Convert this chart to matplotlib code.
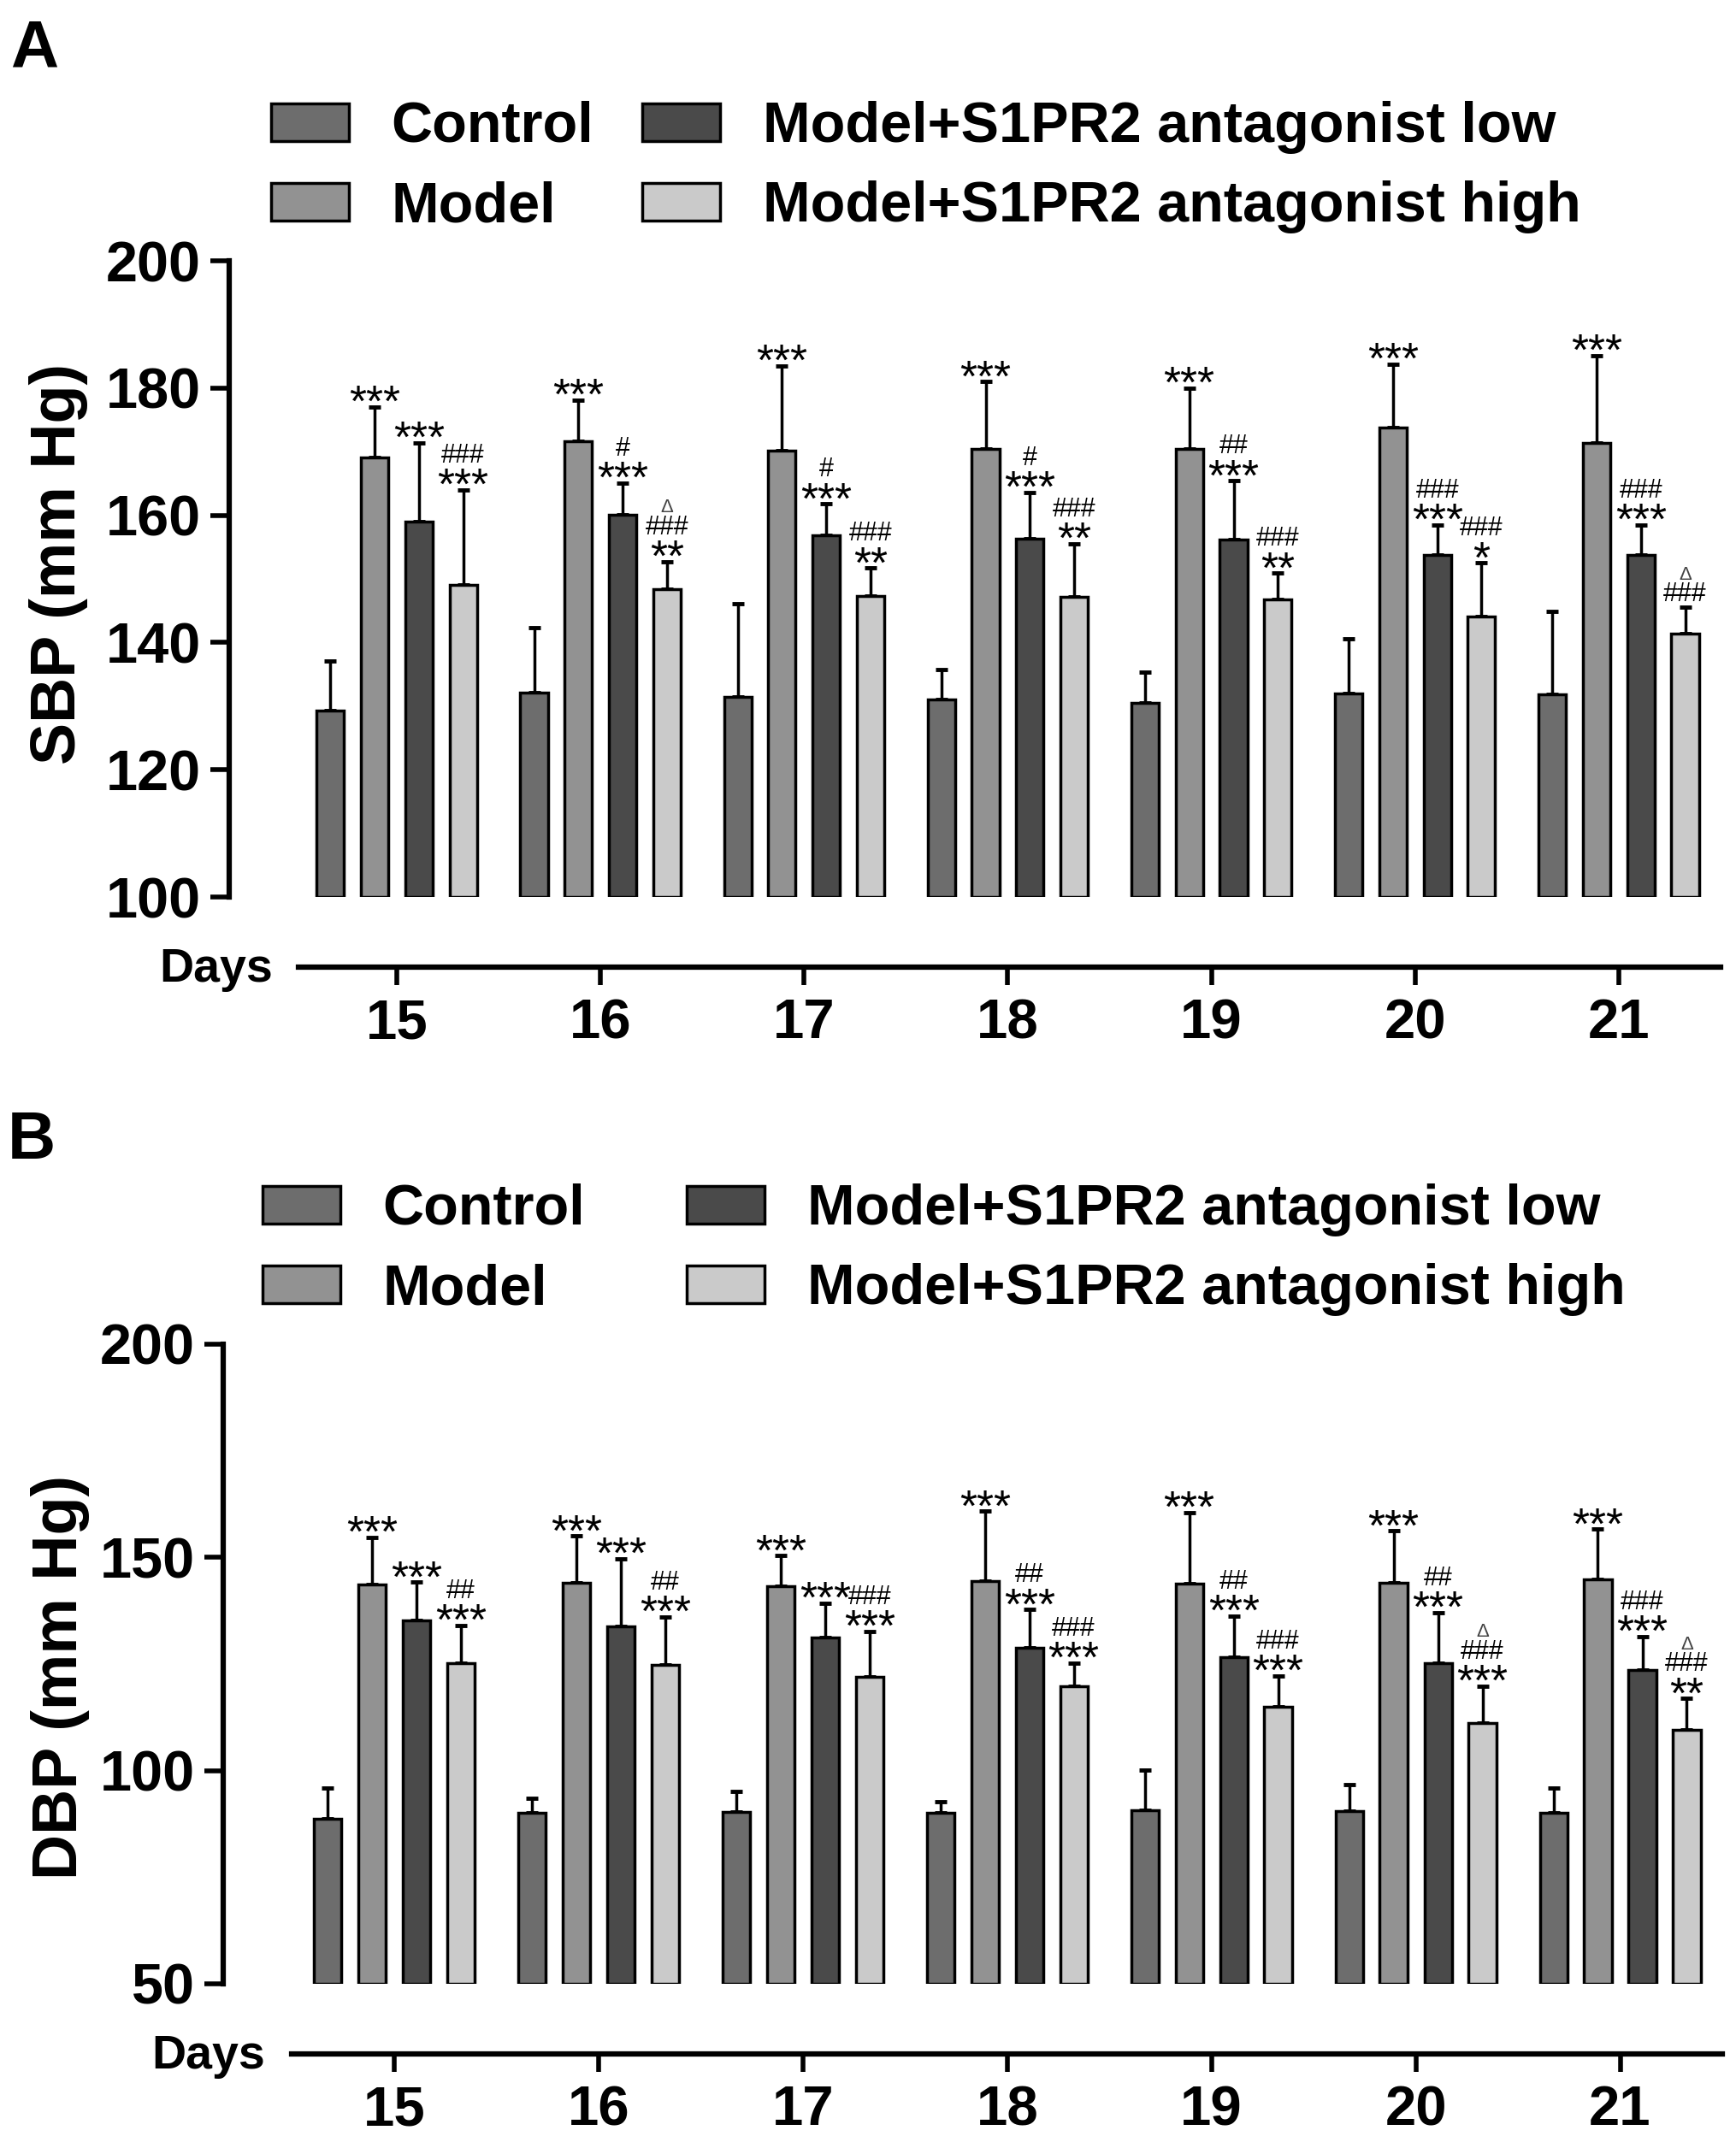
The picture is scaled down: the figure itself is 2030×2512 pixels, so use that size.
import numpy as np
import matplotlib
matplotlib.use("Agg")
import matplotlib.pyplot as plt
from matplotlib.textpath import TextPath
from matplotlib.font_manager import FontProperties

plt.rcParams["font.family"] = ["Liberation Sans", "DejaVu Sans"]

days = ["15", "16", "17", "18", "19", "20", "21"]
groups = ["Control", "Model", "Model+S1PR2 antagonist low", "Model+S1PR2 antagonist high"]
colors = ["#6d6d6d", "#929292", "#4a4a4a", "#cacaca"]

# panel A: systolic pressure, mean and SD
sbp_control = [129.3, 132.1, 131.4, 131.1, 130.5, 132.0, 131.8]
sbp_control_sd = [7.8, 10.2, 14.7, 4.6, 4.9, 8.6, 13.1]
sbp_model = [169.1, 171.6, 170.2, 170.4, 170.4, 173.8, 171.4]
sbp_model_sd = [7.9, 6.5, 13.3, 10.6, 9.6, 10.0, 13.7]
sbp_low = [159.0, 160.1, 156.9, 156.3, 156.2, 153.8, 153.8]
sbp_low_sd = [12.4, 5.0, 4.9, 7.3, 9.2, 4.7, 4.7]
sbp_high = [149.1, 148.4, 147.3, 147.2, 146.8, 144.1, 141.4]
sbp_high_sd = [14.9, 4.3, 4.4, 8.3, 4.1, 8.4, 4.2]

sbp_sig_model = ["***"] * 7
sbp_sig_low = ["***", "#\n***", "#\n***", "#\n***", "##\n***", "###\n***", "###\n***"]
sbp_sig_high = ["###\n***", "\u0394\n###\n**", "###\n**", "###\n**", "###\n**", "###\n*", "\u0394\n###"]

# panel B: diastolic pressure, mean and SD
dbp_control = [88.7, 90.2, 90.4, 90.2, 90.8, 90.5, 90.2]
dbp_control_sd = [7.2, 3.3, 4.7, 2.5, 9.3, 6.3, 5.7]
dbp_model = [143.7, 144.0, 143.2, 144.4, 143.8, 144.1, 144.8]
dbp_model_sd = [11.0, 11.0, 7.2, 16.4, 16.7, 12.1, 11.8]
dbp_low = [135.2, 133.8, 131.2, 128.8, 126.6, 125.2, 123.5]
dbp_low_sd = [9.0, 15.9, 8.1, 9.0, 9.6, 11.9, 7.9]
dbp_high = [125.2, 124.7, 122.0, 119.7, 115.0, 111.2, 109.5]
dbp_high_sd = [8.8, 11.3, 10.6, 5.6, 7.2, 8.6, 7.4]

dbp_sig_model = ["***"] * 7
dbp_sig_low = ["***", "***", "***", "##\n***", "##\n***", "##\n***", "###\n***"]
dbp_sig_high = ["##\n***", "##\n***", "###\n***", "###\n***", "###\n***",
                "\u0394\n###\n***", "\u0394\n###\n**"]

STAR_PT, HASH_PT, TRI_PT = 37, 22, 16
offsets = [-0.326, -0.109, 0.109, 0.326]
bar_w = 0.135

_ext = {}


def glyph_ext(s, size):
    # vertical extent (points) of the ink of a string above its baseline
    key = (s[0], size)
    if key not in _ext:
        p = TextPath((0, 0), s[0], size=size, prop=FontProperties(family=["Liberation Sans", "DejaVu Sans"]))
        e = p.get_extents()
        _ext[key] = (e.y0, e.y1)
    return _ext[key]


def stack_labels(ax, x, y, label):
    # stacked significance marks from the bottom up; h and gaps in points
    h = 4.5
    for s in reversed(label.split("\n")):
        if s.startswith("*"):
            size, gap, col = STAR_PT, 5.5, "black"
        elif s.startswith("#"):
            size, gap, col = HASH_PT, 3.5, "black"
        else:
            size, gap, col = TRI_PT, 3, "#444444"
        lo, hi = glyph_ext(s, size)
        ax.annotate(s, (x, y), xytext=(0, h - lo), textcoords="offset points",
                    ha="center", va="baseline", fontsize=size, color=col,
                    annotation_clip=False)
        h = h + (hi - lo) + gap


def panel(fig, rect, xmin, means, sds, sigs, ylim, yticks, days_start):
    ax = fig.add_axes(rect)
    x = np.arange(len(days))
    for i, (m, sd) in enumerate(zip(means, sds)):
        m = np.array(m)
        sd = np.array(sd)
        xi = x + offsets[i]
        ax.errorbar(xi, m, yerr=[np.zeros_like(sd), sd], fmt="none", ecolor="black",
                    elinewidth=2.5, capsize=5, capthick=3.5, zorder=2)
        ax.bar(xi, m - ylim[0], bottom=ylim[0], width=bar_w, color=colors[i],
               edgecolor="black", linewidth=2.5, label=groups[i], zorder=3)
        if sigs[i] is not None:
            for xx, top, lab in zip(xi, m + sd, sigs[i]):
                stack_labels(ax, xx, top, lab)
    ax.set_ylim(*ylim)
    ax.set_yticks(yticks)
    ax.set_xlim(xmin, 6.5)
    ax.set_xticks(x)
    ax.set_xticklabels(days)
    for sp in ["top", "right"]:
        ax.spines[sp].set_visible(False)
    ax.spines["left"].set_linewidth(4.5)
    ax.spines["bottom"].set_linewidth(4.5)
    ax.spines["bottom"].set_position(("outward", 59))
    ax.spines["bottom"].set_bounds(days_start, 6.5)
    ax.tick_params(axis="y", length=16, width=4, pad=8, labelsize=48)
    ax.tick_params(axis="x", length=15, width=4, pad=11, labelsize=47)
    for t in ax.get_xticklabels() + ax.get_yticklabels():
        t.set_fontweight("bold")
    return ax


fig = plt.figure(figsize=(20.31, 25.12), dpi=100)
W, H = 2031, 2512

axA = panel(fig, [268 / W, 1 - 1049 / H, 1744 / W, 744 / H], -0.823,
            [sbp_control, sbp_model, sbp_low, sbp_high],
            [sbp_control_sd, sbp_model_sd, sbp_low_sd, sbp_high_sd],
            [None, sbp_sig_model, sbp_sig_low, sbp_sig_high],
            (100, 200), [100, 120, 140, 160, 180, 200], -0.483)
axB = panel(fig, [261 / W, 1 - 2320 / H, 1753 / W, 748 / H], -0.837,
            [dbp_control, dbp_model, dbp_low, dbp_high],
            [dbp_control_sd, dbp_model_sd, dbp_low_sd, dbp_high_sd],
            [None, dbp_sig_model, dbp_sig_low, dbp_sig_high],
            (50, 200), [50, 100, 150, 200], -0.502)

axA.legend(loc="upper left", bbox_to_anchor=(317 / W, 1 - 118 / H), bbox_transform=fig.transFigure,
           ncol=2, frameon=False, prop={"size": 48, "weight": "bold"}, handlelength=1.36,
           handleheight=0.64, handletextpad=0.75, columnspacing=0.85, labelspacing=0.47,
           borderpad=0, borderaxespad=0)
axB.legend(loc="upper left", bbox_to_anchor=(307 / W, 1 - 1384 / H), bbox_transform=fig.transFigure,
           ncol=2, frameon=False, prop={"size": 48, "weight": "bold"}, handlelength=1.36,
           handleheight=0.64, handletextpad=0.75, columnspacing=1.78, labelspacing=0.47,
           borderpad=0, borderaxespad=0)

fig.text(12 / W, 1 - 22 / H, "A", fontsize=56, fontweight="bold", va="top")
fig.text(9 / W, 1 - 1298 / H, "B", fontsize=56, fontweight="bold", va="top")
fig.text(69 / W, 1 - 660 / H, "SBP (mm Hg)", fontsize=53, fontweight="bold",
         rotation=90, ha="center", va="center")
fig.text(71 / W, 1 - 1962 / H, "DBP (mm Hg)", fontsize=53, fontweight="bold",
         rotation=90, ha="center", va="center")
fig.text(319 / W, 1 - 1148 / H, "Days", fontsize=40, fontweight="bold", ha="right", va="baseline")
fig.text(310 / W, 1 - 2419 / H, "Days", fontsize=40, fontweight="bold", ha="right", va="baseline")

fig.savefig("out.png", dpi=100)
